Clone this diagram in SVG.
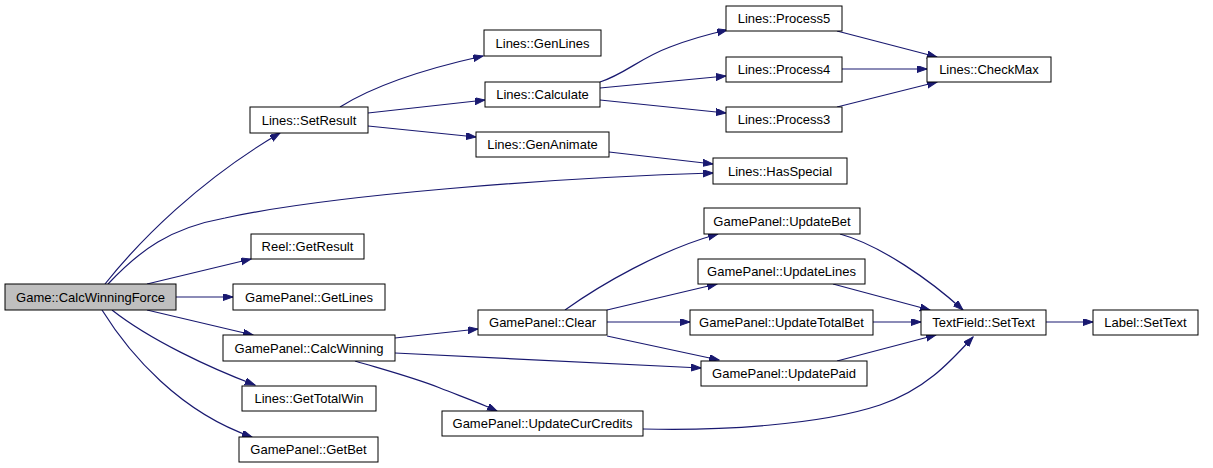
<svg xmlns="http://www.w3.org/2000/svg" width="1213" height="468" viewBox="0 0 1213 468">
<style>
.n rect{fill:#fff;stroke:#000;stroke-width:1}
.n.root rect{fill:#bfbfbf}
.n text{font-family:"Liberation Sans",Arial,sans-serif;font-size:13px;fill:#000;text-anchor:middle}
.e path{fill:none;stroke:#191970;stroke-width:1.2}
</style>
<defs>
<marker id="a" markerUnits="userSpaceOnUse" markerWidth="11" markerHeight="8" refX="10" refY="3.5" orient="auto">
<path d="M0,0 L10,3.5 L0,7 z" fill="#191970" stroke="#191970" stroke-width="1"/>
</marker>
</defs>
<rect width="1213" height="468" fill="#fff"/>
<g id="edges" class="e" marker-end="url(#a)">
<path marker-end="url(#a)" d="M105,284 C140,240 200,180 280,133"/>
<path marker-end="url(#a)" d="M108,284 C140,250 170,228 225,218 C330,195 550,178 713,173"/>
<path marker-end="url(#a)" d="M147,284 L251,259"/>
<path marker-end="url(#a)" d="M176,297 L233,297"/>
<path marker-end="url(#a)" d="M147,310 L253,335"/>
<path marker-end="url(#a)" d="M112,310 C150,340 210,368 255,385"/>
<path marker-end="url(#a)" d="M102,310 C130,355 180,412 252,437"/>
<path marker-end="url(#a)" d="M340,107 C370,88 420,70 483,56"/>
<path marker-end="url(#a)" d="M368,113 L485,100"/>
<path marker-end="url(#a)" d="M368,126 L476,137"/>
<path marker-end="url(#a)" d="M600,82 C625,74 640,58 670,47 C688,40 705,35 727,30"/>
<path marker-end="url(#a)" d="M600,88 L726,76"/>
<path marker-end="url(#a)" d="M600,100 L726,113"/>
<path marker-end="url(#a)" d="M609,152 L713,164"/>
<path marker-end="url(#a)" d="M837,31 L937,57"/>
<path marker-end="url(#a)" d="M842,69 L927,69"/>
<path marker-end="url(#a)" d="M837,107 L937,82"/>
<path marker-end="url(#a)" d="M395,338 L478,329"/>
<path marker-end="url(#a)" d="M395,353 L701,368"/>
<path marker-end="url(#a)" d="M355,361 C385,370 415,378 440,388 C460,396 480,403 497,411"/>
<path marker-end="url(#a)" d="M565,310 C600,285 660,250 718,234"/>
<path marker-end="url(#a)" d="M607,310 L717,284"/>
<path marker-end="url(#a)" d="M607,322 L690,322"/>
<path marker-end="url(#a)" d="M607,336 L719,360"/>
<path marker-end="url(#a)" d="M840,234 C880,245 930,280 963,310"/>
<path marker-end="url(#a)" d="M833,284 L930,310"/>
<path marker-end="url(#a)" d="M873,322 L921,322"/>
<path marker-end="url(#a)" d="M837,361 L936,335"/>
<path marker-end="url(#a)" d="M643,429 C720,431 820,425 880,405 C925,390 950,362 973,337"/>
<path marker-end="url(#a)" d="M1046,322 L1093,322"/>
</g>
<g id="n_CalcWinningForce" class="n root"><rect x="5" y="284" width="171" height="26"/><text x="90.5" y="301.5">Game::CalcWinningForce</text></g>
<g id="n_SetResult" class="n"><rect x="250" y="107" width="118" height="26"/><text x="309" y="124.5">Lines::SetResult</text></g>
<g id="n_GenLines" class="n"><rect x="484" y="30" width="117" height="26"/><text x="542.5" y="47.5">Lines::GenLines</text></g>
<g id="n_Calculate" class="n"><rect x="485" y="82" width="115" height="25"/><text x="542.5" y="99">Lines::Calculate</text></g>
<g id="n_GenAnimate" class="n"><rect x="476" y="132" width="133" height="25"/><text x="542.5" y="149">Lines::GenAnimate</text></g>
<g id="n_Process5" class="n"><rect x="726" y="6" width="116" height="25"/><text x="784" y="23">Lines::Process5</text></g>
<g id="n_Process4" class="n"><rect x="726" y="57" width="116" height="25"/><text x="784" y="74">Lines::Process4</text></g>
<g id="n_Process3" class="n"><rect x="726" y="107" width="116" height="25"/><text x="784" y="124">Lines::Process3</text></g>
<g id="n_CheckMax" class="n"><rect x="927" y="57" width="124" height="25"/><text x="989" y="74">Lines::CheckMax</text></g>
<g id="n_HasSpecial" class="n"><rect x="713" y="158" width="134" height="26"/><text x="780" y="175.5">Lines::HasSpecial</text></g>
<g id="n_ReelGetResult" class="n"><rect x="251" y="234" width="113" height="25"/><text x="307.5" y="251">Reel::GetResult</text></g>
<g id="n_GetLines" class="n"><rect x="233" y="284" width="152" height="26"/><text x="309" y="301.5">GamePanel::GetLines</text></g>
<g id="n_CalcWinning" class="n"><rect x="223" y="335" width="172" height="26"/><text x="309" y="352.5">GamePanel::CalcWinning</text></g>
<g id="n_GetTotalWin" class="n"><rect x="242" y="386" width="134" height="25"/><text x="309" y="403">Lines::GetTotalWin</text></g>
<g id="n_GetBet" class="n"><rect x="239" y="437" width="139" height="25"/><text x="308.5" y="454">GamePanel::GetBet</text></g>
<g id="n_Clear" class="n"><rect x="478" y="310" width="129" height="25"/><text x="542.5" y="327">GamePanel::Clear</text></g>
<g id="n_UpdateCurCredits" class="n"><rect x="442" y="411" width="201" height="25"/><text x="542.5" y="428">GamePanel::UpdateCurCredits</text></g>
<g id="n_UpdateBet" class="n"><rect x="704" y="208" width="156" height="26"/><text x="782" y="225.5">GamePanel::UpdateBet</text></g>
<g id="n_UpdateLines" class="n"><rect x="698" y="259" width="167" height="25"/><text x="781.5" y="276">GamePanel::UpdateLines</text></g>
<g id="n_UpdateTotalBet" class="n"><rect x="690" y="310" width="183" height="25"/><text x="781.5" y="327">GamePanel::UpdateTotalBet</text></g>
<g id="n_UpdatePaid" class="n"><rect x="701" y="361" width="166" height="25"/><text x="784" y="378">GamePanel::UpdatePaid</text></g>
<g id="n_TextFieldSetText" class="n"><rect x="921" y="310" width="125" height="25"/><text x="983.5" y="327">TextField::SetText</text></g>
<g id="n_LabelSetText" class="n"><rect x="1093" y="310" width="105" height="25"/><text x="1145.5" y="327">Label::SetText</text></g>
</svg>
